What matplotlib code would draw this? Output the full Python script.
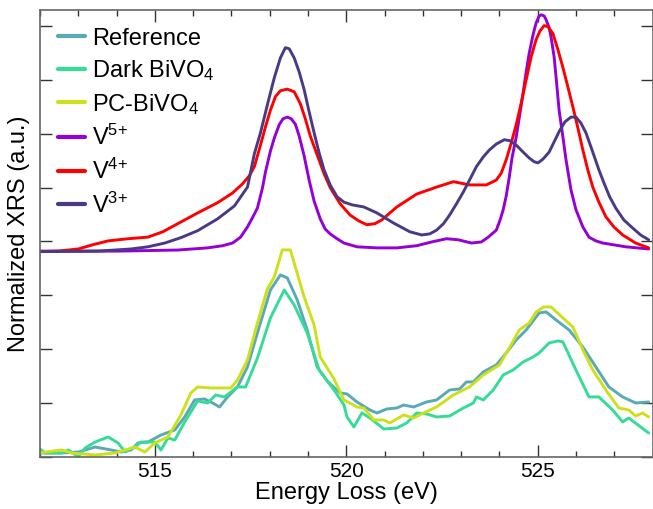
import numpy as np
import matplotlib as mpl
mpl.use("Agg")
import matplotlib.pyplot as plt
from matplotlib.ticker import MultipleLocator, NullFormatter

mpl.rcParams['font.family'] = 'Liberation Sans'
mpl.rcParams['mathtext.fontset'] = 'custom'
mpl.rcParams['mathtext.rm'] = 'Liberation Sans'
mpl.rcParams['mathtext.it'] = 'Liberation Sans:italic'

# ---- spectra (energy in eV, intensity in a.u.) ----
# calculated references (offset upwards)
v5_E = [511.96, 514.04, 515.60, 516.38, 516.77, 517.03, 517.24, 517.42, 517.55, 517.68,
        517.81, 517.89, 518.02, 518.12, 518.25, 518.35, 518.46, 518.56, 518.67, 518.77,
        518.90, 519.03, 519.16, 519.32, 519.45, 519.58, 519.76, 519.94, 520.28, 520.80,
        521.32, 521.84, 522.23, 522.62, 522.93, 523.27, 523.53, 523.71, 523.92, 524.02,
        524.10, 524.18, 524.26, 524.33, 524.44, 524.54, 524.62, 524.70, 524.78, 524.88,
        524.96, 525.04, 525.09, 525.17, 525.22, 525.30, 525.35, 525.43, 525.48, 525.56,
        525.66, 525.74, 525.87, 526.00, 526.18, 526.34, 526.52, 526.70, 527.30, 527.90]
v5_I = [3.82, 3.82, 3.84, 3.88, 3.92, 3.97, 4.08, 4.27, 4.44, 4.62,
        4.99, 5.29, 5.68, 5.92, 6.17, 6.28, 6.31, 6.28, 6.18, 5.96,
        5.59, 5.14, 4.75, 4.42, 4.23, 4.14, 4.05, 3.97, 3.90, 3.88,
        3.88, 3.92, 3.99, 4.05, 4.03, 3.97, 3.99, 4.08, 4.21, 4.40,
        4.59, 4.85, 5.20, 5.55, 5.94, 6.39, 6.76, 7.15, 7.50, 7.84,
        8.06, 8.19, 8.21, 8.19, 8.12, 7.97, 7.80, 7.43, 7.06, 6.44,
        5.94, 5.52, 4.96, 4.59, 4.27, 4.08, 4.01, 3.97, 3.90, 3.86]

v4_E = [511.96, 512.48, 513.00, 513.39, 513.78, 514.30, 514.82, 515.21, 515.60, 516.12,
        516.64, 517.03, 517.29, 517.47, 517.60, 517.76, 517.89, 518.02, 518.15, 518.28,
        518.46, 518.64, 518.80, 518.93, 519.06, 519.24, 519.42, 519.58, 519.84, 520.10,
        520.33, 520.54, 520.75, 520.93, 521.32, 521.84, 522.36, 522.80, 523.22, 523.66,
        523.92, 524.05, 524.18, 524.31, 524.44, 524.57, 524.70, 524.83, 524.96, 525.06,
        525.17, 525.27, 525.40, 525.53, 525.66, 525.79, 525.92, 526.05, 526.18, 526.31,
        526.44, 526.60, 526.78, 526.99, 527.22, 527.56, 527.90]
v4_I = [3.81, 3.82, 3.86, 3.94, 4.01, 4.05, 4.08, 4.18, 4.33, 4.53,
        4.72, 4.90, 5.07, 5.22, 5.39, 5.79, 6.13, 6.44, 6.69, 6.80,
        6.83, 6.78, 6.56, 6.28, 5.96, 5.61, 5.26, 5.00, 4.70, 4.49,
        4.38, 4.31, 4.33, 4.40, 4.64, 4.88, 5.01, 5.11, 5.05, 5.05,
        5.14, 5.27, 5.52, 5.83, 6.17, 6.57, 7.00, 7.43, 7.75, 7.91,
        8.01, 7.99, 7.86, 7.56, 7.23, 6.87, 6.50, 6.11, 5.70, 5.33,
        5.01, 4.73, 4.46, 4.27, 4.12, 3.97, 3.88]

v3_E = [511.96, 513.52, 514.38, 514.82, 515.26, 515.68, 516.12, 516.64, 517.08, 517.42,
        517.60, 517.76, 517.94, 518.12, 518.28, 518.41, 518.51, 518.64, 518.77, 518.90,
        519.03, 519.16, 519.29, 519.42, 519.58, 519.76, 519.94, 520.15, 520.46, 520.80,
        521.24, 521.66, 521.97, 522.18, 522.36, 522.54, 522.70, 522.88, 523.06, 523.22,
        523.40, 523.58, 523.74, 523.92, 524.13, 524.28, 524.44, 524.62, 524.78, 524.91,
        525.01, 525.14, 525.30, 525.43, 525.56, 525.71, 525.87, 526.00, 526.13, 526.26,
        526.44, 526.60, 526.73, 526.88, 527.04, 527.25, 527.48, 527.69, 527.90]
v3_I = [3.81, 3.82, 3.86, 3.90, 3.97, 4.07, 4.20, 4.42, 4.66, 5.01,
        5.63, 6.02, 6.54, 7.04, 7.41, 7.60, 7.58, 7.41, 7.15, 6.82,
        6.41, 6.02, 5.65, 5.33, 5.05, 4.83, 4.73, 4.68, 4.64, 4.53,
        4.34, 4.18, 4.12, 4.14, 4.21, 4.33, 4.49, 4.70, 4.92, 5.14,
        5.39, 5.57, 5.70, 5.81, 5.89, 5.87, 5.79, 5.66, 5.55, 5.48,
        5.46, 5.53, 5.66, 5.85, 6.04, 6.22, 6.31, 6.31, 6.20, 6.02,
        5.66, 5.33, 5.09, 4.83, 4.62, 4.40, 4.25, 4.12, 4.03]

# measured spectra
ref_E = [511.96, 512.56, 513.00, 513.44, 513.86, 514.12, 514.38, 514.56, 514.82, 515.16,
         515.52, 515.78, 516.04, 516.30, 516.51, 516.69, 516.90, 517.16, 517.42, 517.68,
         518.02, 518.28, 518.46, 518.72, 518.98, 519.24, 519.50, 519.84, 520.02, 520.28,
         520.62, 520.80, 521.06, 521.32, 521.50, 521.76, 522.10, 522.36, 522.70, 522.96,
         523.14, 523.32, 523.58, 523.92, 524.18, 524.44, 524.70, 525.04, 525.22, 525.48,
         525.82, 526.18, 526.52, 526.86, 527.22, 527.56, 527.90]
ref_I = [0.069, 0.069, 0.087, 0.180, 0.125, 0.087, 0.125, 0.255, 0.273, 0.403,
         0.496, 0.738, 1.054, 1.073, 0.998, 0.924, 1.110, 1.296, 1.668, 2.300,
         3.099, 3.377, 3.322, 2.913, 2.355, 1.668, 1.407, 1.184, 1.166, 1.017,
         0.868, 0.812, 0.887, 0.905, 0.961, 0.924, 1.017, 1.054, 1.240, 1.258,
         1.389, 1.389, 1.575, 1.705, 1.928, 2.169, 2.355, 2.671, 2.690, 2.541,
         2.355, 2.039, 1.668, 1.296, 1.110, 0.998, 1.017]

dark_E = [511.96, 512.14, 512.56, 512.74, 513.00, 513.18, 513.44, 513.78, 514.04, 514.22,
          514.48, 514.64, 515.00, 515.16, 515.34, 515.52, 515.78, 516.12, 516.38, 516.59,
          516.82, 517.16, 517.37, 517.68, 518.02, 518.38, 518.64, 518.98, 519.29, 519.68,
          519.94, 520.02, 520.20, 520.41, 520.62, 520.98, 521.32, 521.58, 521.84, 522.10,
          522.36, 522.70, 523.06, 523.32, 523.40, 523.58, 523.84, 524.10, 524.36, 524.62,
          524.88, 525.04, 525.30, 525.53, 525.66, 526.00, 526.34, 526.60, 526.96, 527.22,
          527.38, 527.90]
dark_I = [0.162, 0.069, 0.069, 0.125, 0.000, 0.162, 0.273, 0.366, 0.255, 0.087,
          0.180, 0.273, 0.273, 0.125, 0.348, 0.310, 0.645, 1.036, 0.998, 1.147,
          1.110, 1.296, 1.296, 1.835, 2.578, 3.099, 2.820, 2.300, 1.612, 1.240,
          0.961, 0.738, 0.552, 0.812, 0.719, 0.515, 0.533, 0.626, 0.812, 0.794,
          0.738, 0.756, 0.905, 0.998, 1.110, 1.054, 1.240, 1.519, 1.612, 1.760,
          1.853, 1.928, 2.114, 2.151, 2.132, 1.612, 1.110, 1.110, 0.868, 0.645,
          0.719, 0.440]

pc_E = [511.96, 512.56, 512.82, 513.44, 513.96, 514.48, 514.74, 515.00, 515.34, 515.68,
        515.94, 516.12, 516.46, 516.98, 517.16, 517.42, 517.68, 517.94, 518.12, 518.33,
        518.54, 518.90, 519.16, 519.32, 519.68, 519.94, 520.28, 520.46, 520.72, 520.98,
        521.14, 521.50, 521.76, 522.02, 522.36, 522.80, 523.22, 523.58, 524.00, 524.26,
        524.52, 524.78, 524.96, 525.16, 525.35, 525.66, 525.92, 526.18, 526.44, 526.78,
        527.12, 527.38, 527.56, 527.74, 527.90]
pc_I = [0.069, 0.125, 0.069, 0.032, 0.069, 0.180, 0.087, 0.255, 0.366, 0.775,
        1.184, 1.296, 1.277, 1.277, 1.426, 1.797, 2.485, 3.117, 3.340, 3.842,
        3.842, 2.968, 2.448, 1.853, 1.444, 1.054, 0.924, 0.905, 0.682, 0.682,
        0.626, 0.775, 0.719, 0.812, 0.924, 1.147, 1.296, 1.519, 1.705, 2.021,
        2.355, 2.485, 2.690, 2.783, 2.783, 2.578, 2.411, 1.984, 1.612, 1.240,
        0.905, 0.868, 0.756, 0.812, 0.738]

fig = plt.figure(figsize=(6.53, 5.09), dpi=100)
ax = fig.add_axes([40 / 653, 1 - 456.7 / 509, 612.5 / 653, 446.7 / 509])

lw = 2.1
style = dict(lw=lw, solid_joinstyle='round', solid_capstyle='round')
ax.plot(ref_E, ref_I, color='#5aa9b6', label='Reference', **style)
ax.plot(dark_E, dark_I, color='#35dc98', label='Dark BiVO$_4$', **style)
ax.plot(pc_E, pc_I, color='#cde01c', label='PC-BiVO$_4$', **style)
ax.plot(v5_E, v5_I, color='#9400d8', label='V$^{5{+}}$', **style)
ax.plot(v4_E, v4_I, color='#ff0000', label='V$^{4{+}}$', **style)
ax.plot(v3_E, v3_I, color='#4a3a85', label='V$^{3{+}}$', **style)

ax.set_xlim(512, 528)
ax.set_ylim(0, 8.30)
ax.xaxis.set_major_locator(MultipleLocator(5))
ax.xaxis.set_minor_locator(MultipleLocator(1))
ax.yaxis.set_major_locator(MultipleLocator(1))
ax.yaxis.set_major_formatter(NullFormatter())
ax.tick_params(which='both', direction='in', top=True, right=True, color='#333333')
ax.tick_params(which='major', length=8.5, width=1.0, labelsize=15)
ax.tick_params(which='minor', length=4.5, width=1.0)
for s in ax.spines.values():
    s.set_color('#666666')
    s.set_linewidth(1.2)

ax.set_xlabel('Energy Loss (eV)', fontsize=17, labelpad=1)
ax.set_ylabel('Normalized XRS (a.u.)', fontsize=17, labelpad=4)

leg = ax.legend(loc='upper left', frameon=False, fontsize=17, handlelength=1.15,
                handletextpad=0.3, labelspacing=0.36, borderaxespad=0.45,
                borderpad=0.3)
for h in leg.get_lines():
    h.set_linewidth(3)

fig.savefig('out.png', dpi=100)
